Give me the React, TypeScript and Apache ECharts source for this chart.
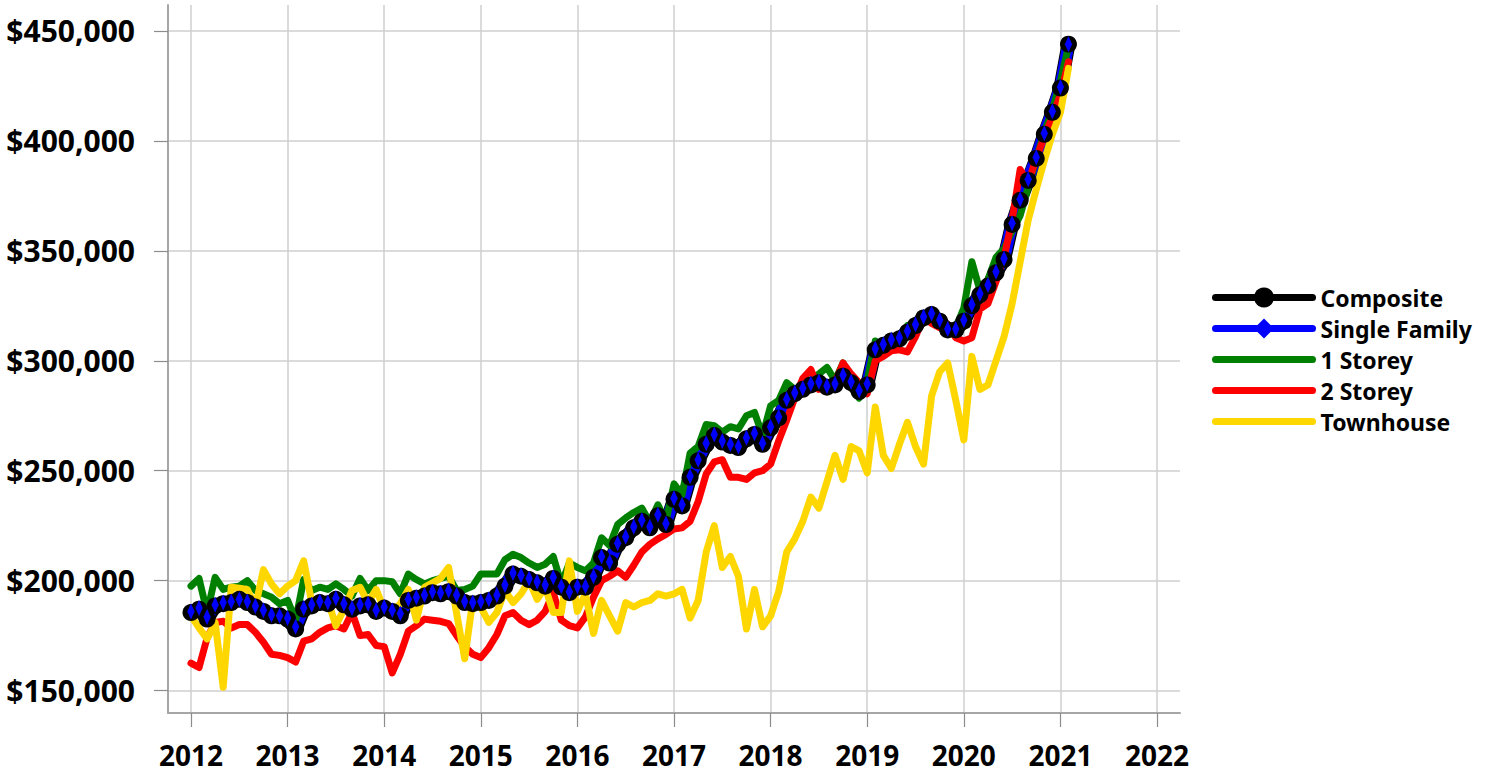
import React, { useEffect, useRef } from "react";
import * as echarts from "echarts";

// Monthly values (thousands of dollars), Jan 2012 .. Feb 2021
const startYear = 2012;

const composite = [
  185.5, 187, 182.5, 188.5, 189.5, 190, 191.5, 190, 188, 186, 184, 184,
  182.5, 178, 187, 188.5, 190, 189.5, 191.5, 189, 187, 188.5, 189, 186,
  187.5, 186, 184, 191, 192, 193, 194.5, 194, 195, 193, 190, 189.5,
  190, 191, 193, 197.5, 203, 202, 200.5, 199, 197.5, 201, 197, 194.5,
  197, 197, 201.5, 210.5, 208, 216.5, 219.5, 224, 227, 224, 229.5, 225.5,
  237, 234, 247, 254.5, 262, 266, 263, 261.5, 260.5, 264.5, 266.5, 262,
  269.5, 274, 282, 285, 287, 289, 290, 288, 289, 293, 290, 286,
  289, 305, 307, 309, 310, 313, 316, 319.5, 321, 318, 314, 314,
  318, 325, 330, 334, 340, 346, 362, 373, 382, 392, 403, 413,
  424, 444,
];

const singleFamily = [
  186, 187.5, 183.5, 189, 190, 190.5, 191.5, 190.5, 188.5, 186.5, 184.5, 184,
  183, 179, 187.5, 189, 190.5, 190, 192, 189.5, 187.5, 189, 189.5, 186.5,
  188, 186.5, 185, 191.5, 192.5, 193.5, 195, 194.5, 195.5, 193.5, 190.5, 190,
  190.5, 191.5, 193.5, 198, 203.5, 202.5, 201, 199.5, 198, 201.5, 197.5, 195,
  197.5, 197.5, 202, 211, 208.5, 217, 220, 224.5, 227.5, 224.5, 230, 226,
  237.5, 234.5, 247.5, 255, 262.5, 266.5, 263.5, 262, 261, 265, 267, 262.5,
  270, 274.5, 282.5, 285.5, 287.5, 289.5, 290.5, 288.5, 289.5, 293.5, 290.5, 286.5,
  289.5, 305.5, 307.5, 309.5, 310.5, 313.5, 316.5, 320, 321.5, 318.5, 314.5, 314.5,
  318.5, 325.5, 330.5, 334.5, 340.5, 346.5, 362.5, 373.5, 382.5, 392.5, 403.5, 413.5,
  424.5, 444,
];

const oneStorey = [
  197.5, 201, 185.5, 201.5, 196, 197, 197.5, 200, 195.5, 194, 192.5, 189.5,
  191, 182, 200.5, 195.5, 197, 196, 198.5, 196, 193, 201, 195.5, 200,
  200, 199.5, 194, 203, 200.5, 198.5, 200, 201, 202, 195.5, 196, 197.5,
  203, 203, 203, 209.5, 212, 210.5, 208, 206, 207.5, 211, 198.5, 208,
  206, 204.5, 208, 219.5, 216, 225.5, 228.5, 231, 233, 226.5, 234.5, 227,
  244, 239, 258, 261, 271, 270.5, 267.5, 270, 269, 275, 276.5, 266,
  279.5, 282, 290, 287, 289, 291, 294, 297, 291, 299, 292, 283,
  291, 309, 306, 310.5, 311, 316, 315, 319, 321, 316.5, 312, 315,
  324, 345, 332, 337, 347, 351, 359, 366, 379, 392, 404, 414,
  427, 443,
];

const twoStorey = [
  162.5, 160.5, 174, 181, 181.5, 178.5, 180, 180, 176.5, 172, 166.5, 166,
  165, 163, 172.5, 173.5, 176.5, 178.5, 179.5, 178, 185.5, 175, 175.5, 170.5,
  170, 158, 166.5, 177, 179.5, 182.5, 182, 181.5, 180.5, 175, 170, 166.5,
  165, 169.5, 175.5, 184, 185.5, 182, 180, 182, 186, 194.5, 182, 179.5,
  178.5, 183.5, 192.5, 200, 202, 204.5, 201.5, 207, 213, 216.5, 219, 221,
  223.5, 224, 227, 236, 248.5, 254, 255, 247, 247, 246, 249, 250,
  253, 263.5, 273, 283, 292, 296, 287, 290, 290, 299, 294, 290,
  285, 300, 302, 304.5, 305, 304, 311, 319.5, 317, 315, 316.5, 310.5,
  309, 310.5, 323.5, 326, 336, 347, 364, 387, 381, 392, 402, 411,
  421, 436,
];

const townhouse = [
  184, 178.5, 173.5, 181, 151.5, 197, 196.5, 196, 188, 205, 198.5, 194,
  197.5, 200, 209, 190, 189.5, 191, 179.5, 187, 195.5, 197, 190, 196,
  187, 185.5, 189.5, 196, 182, 197, 199, 201, 206, 185, 164.5, 191,
  188, 181, 185.5, 195.5, 190, 194, 200, 191.5, 197, 185.5, 185.5, 209,
  186, 194, 176, 191, 184, 177, 190, 188, 190, 191, 194, 193,
  194, 196, 183, 191, 213, 225, 206, 211, 202, 178, 196, 179,
  184, 195, 213, 219, 227, 238, 233, 245, 257, 246, 261, 259,
  249, 279, 257, 251, 262, 272, 261, 253, 284, 295, 299, 282,
  264, 302, 287, 289, 300, 311, 326, 345, 364, 378, 391, 403,
  413, 433,
];

const yearTicks = [2012, 2013, 2014, 2015, 2016, 2017, 2018, 2019, 2020, 2021, 2022];
const priceTicks = [150000, 200000, 250000, 300000, 350000, 400000, 450000];

const seriesNames = ["Composite", "Single Family", "1 Storey", "2 Storey", "Townhouse"];

const FONT = "Noto Sans";

function toPoints(vals: number[]) {
  return vals.map((v, i) => [startYear + i / 12, v * 1000]);
}

export default function App() {
  const ref = useRef<HTMLDivElement>(null);

  useEffect(() => {
    if (!ref.current) return;
    const chart = echarts.init(ref.current, undefined, { renderer: "svg" });

    const lineBase = (name: string, vals: number[], color: string, width: number) => ({
      name,
      type: "line",
      data: toPoints(vals),
      symbol: "none",
      lineStyle: { color, width, join: "round", cap: "round" },
      itemStyle: { color },
      emphasis: { disabled: true },
    });

    chart.setOption({
      animation: false,
      backgroundColor: "#ffffff",
      textStyle: { fontFamily: FONT },
      grid: { left: 168, right: 316, top: 5, bottom: 61, containLabel: false },
      legend: {
        orient: "vertical",
        left: 1212,
        top: 286,
        padding: 0,
        itemWidth: 97,
        itemHeight: 25,
        itemGap: 8,
        selectedMode: false,
        lineStyle: { width: 7 },
        textStyle: {
          fontFamily: FONT,
          fontSize: 23,
          fontWeight: "bold",
          color: "#000",
          padding: [0, 0, 0, 3],
        },
        data: [
          { name: seriesNames[0] },
          { name: seriesNames[1] },
          { name: seriesNames[2], itemStyle: { opacity: 0 } },
          { name: seriesNames[3], itemStyle: { opacity: 0 } },
          { name: seriesNames[4], itemStyle: { opacity: 0 } },
        ],
      },
      xAxis: {
        type: "value",
        min: 2011.762,
        max: 2022.238,
        axisLine: { show: true, onZero: false, lineStyle: { color: "#a6a6a6", width: 2 } },
        axisTick: {
          show: true,
          length: 14,
          customValues: yearTicks,
          lineStyle: { color: "#8c8c8c", width: 1.2 },
        },
        axisLabel: {
          customValues: yearTicks,
          formatter: (v: number) => String(Math.round(v)),
          fontFamily: FONT,
          fontSize: 28,
          lineHeight: 28,
          fontWeight: "bold",
          color: "#000",
          margin: 28,
        },
        splitLine: { show: true, lineStyle: { color: "#cfcfcf", width: 1.5 } },
      },
      yAxis: {
        type: "value",
        min: 139800,
        max: 461800,
        axisLine: { show: true, onZero: false, lineStyle: { color: "#a6a6a6", width: 2 } },
        axisTick: {
          show: true,
          length: 14,
          customValues: priceTicks,
          lineStyle: { color: "#8c8c8c", width: 1.2 },
        },
        axisLabel: {
          customValues: priceTicks,
          formatter: (v: number) => "$" + Math.round(v).toLocaleString("en-US"),
          fontFamily: FONT,
          fontSize: 30,
          fontWeight: "bold",
          color: "#000",
          margin: 33,
        },
        splitLine: { show: true, lineStyle: { color: "#cfcfcf", width: 1.5 } },
      },
      series: [
        {
          name: seriesNames[0],
          type: "line",
          data: toPoints(composite),
          symbol: "circle",
          symbolSize: 17,
          showSymbol: true,
          lineStyle: { color: "#000000", width: 14, join: "round", cap: "round" },
          itemStyle: { color: "#000000" },
          emphasis: { disabled: true },
        },
        {
          name: seriesNames[1],
          type: "line",
          data: toPoints(singleFamily),
          symbol: "path://M6,0L12,9L6,18L0,9Z",
          symbolSize: [11, 16],
          symbolKeepAspect: true,
          showSymbol: true,
          lineStyle: { color: "#0000ff", width: 12, join: "round", cap: "round" },
          itemStyle: { color: "#0000ff" },
          emphasis: { disabled: true },
        },
        lineBase(seriesNames[2], oneStorey, "#008000", 7),
        lineBase(seriesNames[3], twoStorey, "#ff0000", 7),
        lineBase(seriesNames[4], townhouse, "#ffd700", 7),
      ],
    });

    return () => chart.dispose();
  }, []);

  return (
    <div
      ref={ref}
      style={{ position: "absolute", left: 0, top: 0, width: 1496, height: 774, background: "#fff" }}
    />
  );
}
